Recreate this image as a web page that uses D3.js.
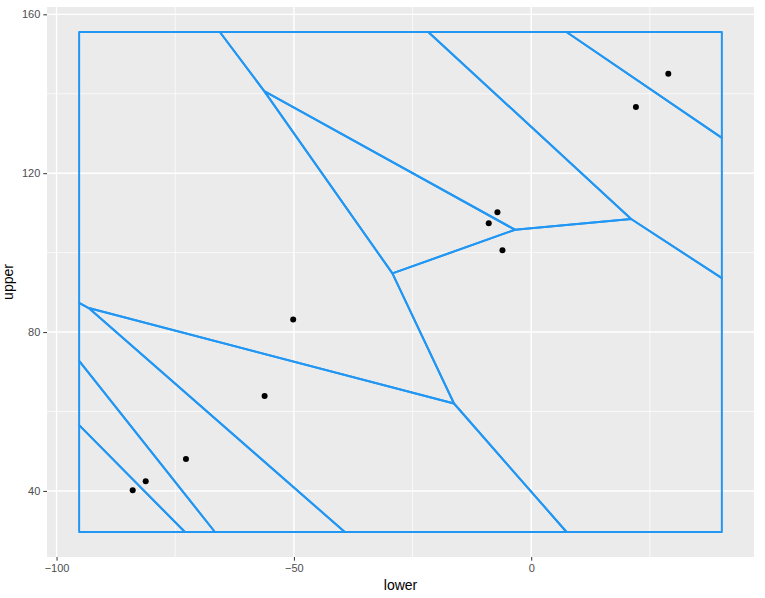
<!DOCTYPE html>
<html>
<head>
<meta charset="utf-8">
<script src="https://cdn.jsdelivr.net/npm/d3@7"></script>
<style>
  body { margin: 0; background: #fff; }
  text { font-family: "Liberation Sans", Arial, sans-serif; }
</style>
</head>
<body>
<svg id="chart" width="765" height="598"></svg>
<script>
// point data
const lowerVals = [-83.96, -81.22, -72.74, -56.17, -50.15, -8.95, -7.12, -6.06, 22.06, 28.88];
const upperVals = [40.15, 42.42, 48.05, 63.9, 83.17, 107.42, 110.19, 100.63, 136.68, 145.06];
const xTicks = [-100, -50, 0];
const yTicks = [40, 80, 120, 160];
const xMinor = [-75, -25, 25];
const yMinor = [60, 100, 140];

const svg = d3.select("#chart");
const width = +svg.attr("width");
const height = +svg.attr("height");
const margin = { top: 7, right: 11, bottom: 41, left: 47 };

// voronoi outline box: data range widened by 10% each side
const xr = d3.extent(lowerVals), yr = d3.extent(upperVals);
const dx = (xr[1] - xr[0]) * 0.1, dy = (yr[1] - yr[0]) * 0.1;
const box = [xr[0] - dx, yr[0] - dy, xr[1] + dx, yr[1] + dy];

// ggplot style 5% expansion
const ex = (box[2] - box[0]) * 0.05, ey = (box[3] - box[1]) * 0.05;
const x = d3.scaleLinear().domain([box[0] - ex, box[2] + ex]).range([margin.left, width - margin.right]);
const y = d3.scaleLinear().domain([box[1] - ey, box[3] + ey]).range([height - margin.bottom, margin.top]);

const g = svg.append("g");

// panel background
g.append("rect")
    .attr("x", margin.left).attr("y", margin.top)
    .attr("width", width - margin.left - margin.right)
    .attr("height", height - margin.top - margin.bottom)
    .attr("fill", "#EBEBEB");

// grid lines
g.selectAll(".xminor").data(xMinor).enter().append("line")
    .attr("x1", d => x(d)).attr("x2", d => x(d))
    .attr("y1", margin.top).attr("y2", height - margin.bottom)
    .attr("stroke", "#fff").attr("stroke-width", 0.7);
g.selectAll(".yminor").data(yMinor).enter().append("line")
    .attr("y1", d => y(d)).attr("y2", d => y(d))
    .attr("x1", margin.left).attr("x2", width - margin.right)
    .attr("stroke", "#fff").attr("stroke-width", 0.7);
g.selectAll(".xmajor").data(xTicks).enter().append("line")
    .attr("x1", d => x(d)).attr("x2", d => x(d))
    .attr("y1", margin.top).attr("y2", height - margin.bottom)
    .attr("stroke", "#fff").attr("stroke-width", 1.4);
g.selectAll(".ymajor").data(yTicks).enter().append("line")
    .attr("y1", d => y(d)).attr("y2", d => y(d))
    .attr("x1", margin.left).attr("x2", width - margin.right)
    .attr("stroke", "#fff").attr("stroke-width", 1.4);

// voronoi cells computed in data space
const pts = lowerVals.map((v, i) => [v, upperVals[i]]);
const voronoi = d3.Delaunay.from(pts).voronoi(box);
const line = d3.line().x(d => x(d[0])).y(d => y(d[1]));

g.append("g").selectAll("path")
    .data(pts.map((p, i) => voronoi.cellPolygon(i)))
    .enter().append("path")
    .attr("d", d => line(d) + "Z")
    .attr("fill", "none")
    .attr("stroke", "#2196F3")
    .attr("stroke-width", 2)
    .attr("stroke-linejoin", "round");

// points
g.selectAll(".pt").data(pts).enter().append("circle")
    .attr("cx", d => x(d[0])).attr("cy", d => y(d[1]))
    .attr("r", 3).attr("fill", "#000");

// axes
const xAxis = svg.append("g")
    .attr("transform", `translate(0,${height - margin.bottom})`)
    .call(d3.axisBottom(x).tickValues(xTicks).tickSize(3.7).tickPadding(3));
const yAxis = svg.append("g")
    .attr("transform", `translate(${margin.left},0)`)
    .call(d3.axisLeft(y).tickValues(yTicks).tickSize(3.7).tickPadding(3));
[xAxis, yAxis].forEach(a => {
    a.select(".domain").remove();
    a.selectAll("line").attr("stroke", "#333").attr("stroke-width", 1);
    a.selectAll("text").attr("fill", "#4D4D4D").style("font-size", "11px");
});

svg.append("text")
    .attr("x", (margin.left + width - margin.right) / 2)
    .attr("y", height - 8)
    .attr("text-anchor", "middle")
    .style("font-size", "14px")
    .attr("fill", "#000")
    .text("lower");

svg.append("text")
    .attr("transform", `translate(13,${(margin.top + height - margin.bottom) / 2}) rotate(-90)`)
    .attr("text-anchor", "middle")
    .style("font-size", "14px")
    .attr("fill", "#000")
    .text("upper");
</script>
</body>
</html>
